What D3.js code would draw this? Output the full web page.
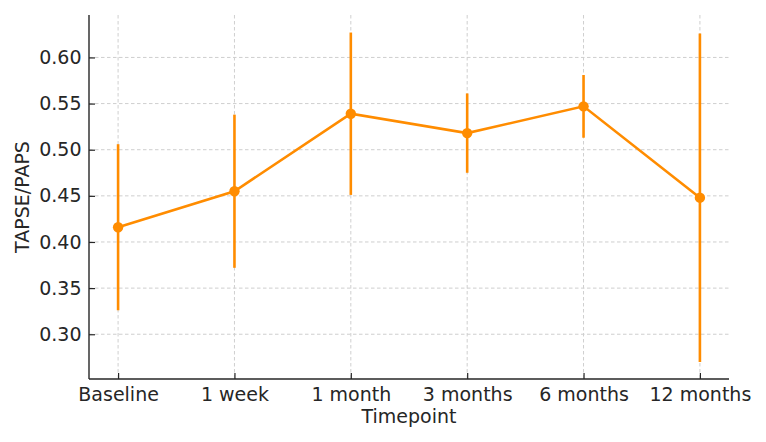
<!DOCTYPE html>
<html>
<head>
<meta charset="utf-8">
<script src="https://cdn.jsdelivr.net/npm/d3@7"></script>
<style>
  body { margin: 0; background: #fff; }
  text { font-family: "DejaVu Sans", sans-serif; fill: #262626; }
</style>
</head>
<body>
<div id="chart"></div>
<script>
// Data
const timepoints = ["Baseline", "1 week", "1 month", "3 months", "6 months", "12 months"];
const means = [0.416, 0.455, 0.539, 0.518, 0.547, 0.448];
const errors = [0.090, 0.083, 0.088, 0.043, 0.034, 0.178];
const yTicks = [0.30, 0.35, 0.40, 0.45, 0.50, 0.55, 0.60];

const W = 766, H = 442;
const margin = { top: 15, right: 37, bottom: 63, left: 89 },
    width = W - margin.left - margin.right,
    height = H - margin.top - margin.bottom;

const color = "#ff8c00";

const svg = d3.select("#chart").append("svg")
    .attr("width", W)
    .attr("height", H);

const g = svg.append("g")
    .attr("transform", `translate(${margin.left},${margin.top})`);

// Scales
const x = d3.scalePoint().domain(timepoints).range([0, width]).padding(0.25);
const y = d3.scaleLinear().domain([0.2515, 0.646]).range([height, 0]);

// Grid
g.append("g").selectAll("line")
    .data(yTicks)
    .join("line")
    .attr("x1", 0).attr("x2", width)
    .attr("y1", d => y(d)).attr("y2", d => y(d))
    .attr("stroke", "#cfcfcf")
    .attr("stroke-width", 1)
    .attr("stroke-dasharray", "3.5,2.5");

g.append("g").selectAll("line")
    .data(timepoints)
    .join("line")
    .attr("x1", d => x(d)).attr("x2", d => x(d))
    .attr("y1", 0).attr("y2", height)
    .attr("stroke", "#cfcfcf")
    .attr("stroke-width", 1)
    .attr("stroke-dasharray", "3.5,2.5");

// Axes (ticks point inward)
const yAxis = g.append("g")
    .call(d3.axisLeft(y).tickValues(yTicks).tickFormat(d3.format(".2f")).tickSizeInner(-6).tickSizeOuter(0).tickPadding(7.5));
const xAxis = g.append("g")
    .attr("transform", `translate(0,${height})`)
    .call(d3.axisBottom(x).tickSizeInner(-6).tickSizeOuter(0).tickPadding(8.5));

[yAxis, xAxis].forEach(ax => {
    ax.select(".domain").attr("stroke", "#262626").attr("stroke-width", 1.4);
    ax.selectAll(".tick line").attr("stroke", "#262626").attr("stroke-width", 1.2);
    ax.selectAll(".tick text").style("font-size", "19px").attr("fill", "#262626");
});
xAxis.select(".domain").attr("d", `M0,0H${width}`);
yAxis.select(".domain").attr("d", `M0,${height}V0`);

// Error bars
g.append("g").selectAll("line")
    .data(timepoints)
    .join("line")
    .attr("x1", d => x(d)).attr("x2", d => x(d))
    .attr("y1", (d, i) => y(means[i] - errors[i]))
    .attr("y2", (d, i) => y(means[i] + errors[i]))
    .attr("stroke", color)
    .attr("stroke-width", 2.6);

// Line
const line = d3.line()
    .x((d, i) => x(timepoints[i]))
    .y(d => y(d));

g.append("path")
    .datum(means)
    .attr("d", line)
    .attr("fill", "none")
    .attr("stroke", color)
    .attr("stroke-width", 2.6);

// Markers
g.append("g").selectAll("circle")
    .data(means)
    .join("circle")
    .attr("cx", (d, i) => x(timepoints[i]))
    .attr("cy", d => y(d))
    .attr("r", 5.2)
    .attr("fill", color);

// Axis labels
svg.append("text")
    .attr("x", margin.left + width / 2)
    .attr("y", 423)
    .attr("text-anchor", "middle")
    .style("font-size", "19px")
    .text("Timepoint");

svg.append("text")
    .attr("transform", `translate(29,${margin.top + height / 2}) rotate(-90)`)
    .attr("text-anchor", "middle")
    .style("font-size", "19px")
    .text("TAPSE/PAPS");
</script>
</body>
</html>
